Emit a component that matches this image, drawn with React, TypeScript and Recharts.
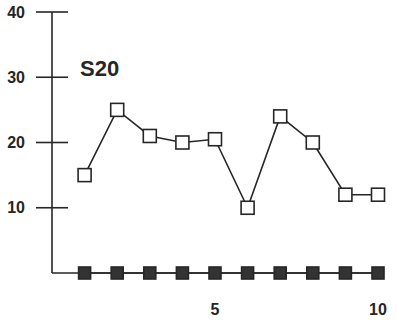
import React from 'react';
import { LineChart, Line, XAxis, YAxis } from 'recharts';

const days = [1, 2, 3, 4, 5, 6, 7, 8, 9, 10];
const openSeries = [15, 25, 21, 20, 20.5, 10, 24, 20, 12, 12];
const filledSeries = [0, 0, 0, 0, 0, 0, 0, 0, 0, 0];
const xTicks = [5, 10];
const yTicks = [10, 20, 30, 40];
const label = 'S20';

const data = days.map((d, i) => ({ day: d, open: openSeries[i], filled: filledSeries[i] }));

const INK = '#262626';
const FONT = '"Liberation Sans", Arial, Helvetica, sans-serif';

const OpenDot = (props: any) => {
  const { cx, cy } = props;
  if (cx == null || cy == null) return null;
  const s = 13;
  return <rect x={cx - s / 2} y={cy - s / 2} width={s} height={s} fill="#fff" stroke={INK} strokeWidth={1.6} />;
};

const FilledDot = (props: any) => {
  const { cx, cy } = props;
  if (cx == null || cy == null) return null;
  const s = 12;
  return <rect x={cx - s / 2} y={cy - s / 2} width={s} height={s} fill="#333" stroke={INK} strokeWidth={1.6} />;
};

const YTick = (props: any) => {
  const { x, y, payload } = props;
  const ax = x + 8;
  return (
    <g>
      <line x1={ax - 16} x2={ax + 16} y1={y} y2={y} stroke={INK} strokeWidth={1.6} />
      <text x={ax - 27} y={y} textAnchor="end" dominantBaseline="central" fontFamily={FONT} fontWeight="bold" fontSize={16} fill={INK}>
        {payload.value}
      </text>
    </g>
  );
};

const XTick = (props: any) => {
  const { x, y, payload } = props;
  return (
    <text x={x} y={y + 28} textAnchor="middle" dominantBaseline="central" fontFamily={FONT} fontWeight="bold" fontSize={16} fill={INK}>
      {payload.value}
    </text>
  );
};

export default function App() {
  return (
    <div style={{ position: 'absolute', left: 0, top: 0, width: 397, height: 321, background: '#fff' }}>
      <LineChart width={397} height={321} data={data} margin={{ top: 12, right: 19, bottom: 0, left: 2 }}>
        <XAxis
          dataKey="day"
          type="number"
          domain={[0, 10]}
          ticks={xTicks}
          tickLine={false}
          axisLine={{ stroke: INK, strokeWidth: 1.6 }}
          tick={<XTick />}
          height={48}
          interval={0}
        />
        <YAxis
          type="number"
          domain={[0, 40]}
          ticks={yTicks}
          tickLine={false}
          axisLine={{ stroke: INK, strokeWidth: 1.6 }}
          tick={<YTick />}
          width={50}
          interval={0}
        />
        <Line dataKey="filled" stroke={INK} strokeWidth={1.6} dot={<FilledDot />} isAnimationActive={false} />
        <Line dataKey="open" stroke={INK} strokeWidth={1.6} dot={<OpenDot />} isAnimationActive={false} />
        <text x={80} y={68} dominantBaseline="central" fontFamily={FONT} fontWeight="bold" fontSize={22} fill={INK}>
          {label}
        </text>
      </LineChart>
    </div>
  );
}
